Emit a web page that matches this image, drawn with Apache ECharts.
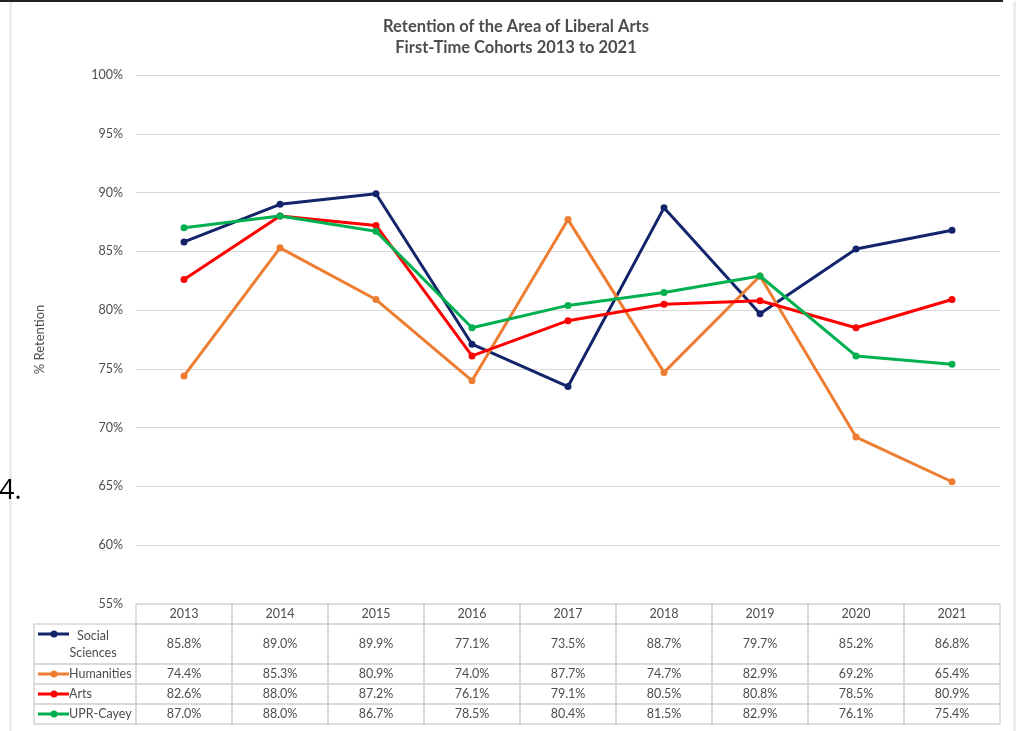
<!DOCTYPE html>
<html>
<head>
<meta charset="utf-8">
<script src="https://cdn.jsdelivr.net/npm/echarts@6/dist/echarts.min.js"></script>
<style>
html,body{margin:0;padding:0;background:#fff;}
#c{width:1017px;height:731px;}
</style>
</head>
<body>
<div id="c"></div>
<script>
const years = ['2013','2014','2015','2016','2017','2018','2019','2020','2021'];
const socialSciences = [85.8, 89.0, 89.9, 77.1, 73.5, 88.7, 79.7, 85.2, 86.8];
const humanities = [74.4, 85.3, 80.9, 74.0, 87.7, 74.7, 82.9, 69.2, 65.4];
const arts = [82.6, 88.0, 87.2, 76.1, 79.1, 80.5, 80.8, 78.5, 80.9];
const uprCayey = [87.0, 88.0, 86.7, 78.5, 80.4, 81.5, 82.9, 76.1, 75.4];
const seriesNames = ['Social\nSciences', 'Humanities', 'Arts', 'UPR-Cayey'];
const seriesKeys = ['Social Sciences', 'Humanities', 'Arts', 'UPR-Cayey'];
const seriesData = [socialSciences, humanities, arts, uprCayey];
const colors = ['#13246b', '#ed7d31', '#ff0000', '#00b050'];

const FONT = 'Lato, "Open Sans", sans-serif';
const TXT = '#4d4d4d';

// table layout in row units: header 1, social sciences 2, others 1
const rowStarts = [0, 1, 3, 4, 5];
const rowEnds = [1, 3, 4, 5, 6];
const legendColStart = -1.0625;

const cells = [];
years.forEach((y, i) => cells.push({x0: i, x1: i + 1, r0: 0, r1: 1, text: y, kind: 'cell'}));
seriesData.forEach((arr, s) => {
  cells.push({x0: legendColStart, x1: 0, r0: rowStarts[s + 1], r1: rowEnds[s + 1], text: seriesNames[s], kind: 'legend', s: s});
  arr.forEach((v, i) => cells.push({x0: i, x1: i + 1, r0: rowStarts[s + 1], r1: rowEnds[s + 1], text: v.toFixed(1) + '%', kind: 'cell'}));
});

function renderCell(params, api) {
  const c = cells[params.dataIndex];
  const p0 = api.coord([api.value(0), api.value(2)]);
  const p1 = api.coord([api.value(1), api.value(3)]);
  const w = p1[0] - p0[0], h = p1[1] - p0[1];
  const children = [{
    type: 'rect',
    shape: {x: p0[0], y: p0[1], width: w, height: h},
    style: {fill: 'none', stroke: '#d6d6d6', lineWidth: 1.5}
  }];
  if (c.kind === 'cell') {
    children.push({
      type: 'text',
      style: {text: c.text, x: p0[0] + w / 2, y: p0[1] + h / 2, align: 'center', verticalAlign: 'middle',
        fill: TXT, font: '12.5px ' + FONT}
    });
  } else {
    const ly = c.s === 0 ? p0[1] + 10 : p0[1] + h / 2;
    children.push({type: 'line', shape: {x1: p0[0] + 4, y1: ly, x2: p0[0] + 35, y2: ly},
      style: {stroke: colors[c.s], lineWidth: 3}});
    children.push({type: 'circle', shape: {cx: p0[0] + 20, cy: ly, r: 3.5}, style: {fill: colors[c.s]}});
    if (c.s === 0) {
      children.push({type: 'text', style: {text: c.text, x: p0[0] + 59, y: p0[1] + h / 2, align: 'center',
        verticalAlign: 'middle', fill: TXT, font: '12.5px ' + FONT, lineHeight: 17}});
    } else {
      children.push({type: 'text', style: {text: c.text, x: p0[0] + 35, y: ly, align: 'left',
        verticalAlign: 'middle', fill: TXT, font: '12.5px ' + FONT}});
    }
  }
  return {type: 'group', children: children};
}

const lineSeries = seriesData.map((arr, s) => ({
  name: seriesKeys[s],
  type: 'line',
  data: arr,
  xAxisIndex: 0, yAxisIndex: 0,
  symbol: 'circle',
  symbolSize: 7,
  lineStyle: {width: 3, color: colors[s]},
  itemStyle: {color: colors[s]},
  z: 3 + (s === 3 ? 1 : 0)
}));

const chart = echarts.init(document.getElementById('c'), null, {renderer: 'canvas'});
chart.setOption({
  animation: false,
  backgroundColor: '#fff',
  title: {
    text: 'Retention of the Area of Liberal Arts\nFirst-Time Cohorts 2013 to 2021',
    left: 511, textAlign: 'center', top: 11,
    textStyle: {fontFamily: FONT, fontSize: 16.5, fontWeight: 'bold', color: TXT, lineHeight: 21}
  },
  grid: [
    {left: 136, right: 17, top: 75, bottom: 127},
    {left: 34, right: 17, top: 604, height: 120}
  ],
  xAxis: [
    {type: 'category', data: years, gridIndex: 0, boundaryGap: true,
      axisLine: {show: false}, axisTick: {show: false}, axisLabel: {show: false}},
    {type: 'value', gridIndex: 1, min: legendColStart, max: 9, show: false}
  ],
  yAxis: [
    {type: 'value', gridIndex: 0, min: 55, max: 100, interval: 5,
      name: '% Retention', nameLocation: 'middle', nameGap: 90, nameRotate: 90,
      nameTextStyle: {fontFamily: FONT, fontSize: 13, color: TXT},
      axisLine: {show: false}, axisTick: {show: false},
      axisLabel: {formatter: '{value}%', fontFamily: FONT, fontSize: 12.5, color: TXT, margin: 13},
      splitLine: {lineStyle: {color: '#d9d9d9', width: 1}}},
    {type: 'value', gridIndex: 1, min: 0, max: 6, inverse: true, show: false}
  ],
  graphic: [
    {type: 'rect', shape: {x: 0, y: 0, width: 1003, height: 2}, style: {fill: '#222'}},
    {type: 'rect', shape: {x: 9, y: 2, width: 3, height: 729}, style: {fill: '#ececec'}},
    {type: 'rect', shape: {x: 1013, y: 2, width: 3, height: 729}, style: {fill: '#ececec'}},
    {type: 'text', left: -1, top: 478, style: {text: '4.', font: '27px "Open Sans", sans-serif', fill: '#000'}}
  ],
  series: lineSeries.concat([{
    type: 'custom',
    xAxisIndex: 1, yAxisIndex: 1,
    renderItem: renderCell,
    data: cells.map(c => [c.x0, c.x1, c.r0, c.r1]),
    encode: {x: [0, 1], y: [2, 3]},
    silent: true,
    z: 2
  }])
});
</script>
</body>
</html>
